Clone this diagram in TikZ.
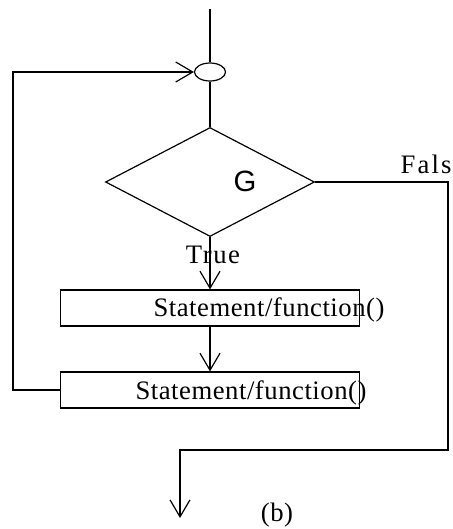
\documentclass[tikz,border=0pt]{standalone}
\usepackage{fontspec}
\setmainfont[LetterSpace=2]{Liberation Serif}
\newfontfamily\condfont{Liberation Sans}
\usetikzlibrary{arrows.meta, shapes.geometric}

\begin{document}
\begin{tikzpicture}[x=0.75pt, y=-0.75pt, line width=0.9pt,
  arr/.style={-{Straight Barb[length=12.75pt, width=15pt]}},
  stmtbox/.style={draw, rectangle, minimum width=224.25pt, minimum height=27pt, inner sep=0pt},
  lbl/.style={font=\fontsize{20}{24}\selectfont, inner sep=0pt}]
\useasboundingbox (0,0) rectangle (453,529);
% loop body
\node[draw, ellipse, minimum width=23.25pt, minimum height=13.5pt, inner sep=0pt] (join) at (210,72) {};
\node[draw, diamond, minimum width=156.75pt, minimum height=81.75pt, inner sep=0pt] (cond) at (210,182) {};
\node[font=\condfont\fontsize{22}{26}\selectfont, inner sep=0pt] (g) at (245,181) {G};
\node[stmtbox] (s1) at (210,308) {};
\node[stmtbox] (s2) at (210,390) {};
\node[lbl, anchor=base] (t1) at (269,316) {Statement/function()};
\node[lbl, anchor=base] (t2) at (251,399) {Statement/function()};
\node[lbl, anchor=base] (yes) at (213,263) {\addfontfeature{LetterSpace=6}True};
\node[lbl, anchor=base west] (no) at (400,173) {\addfontfeature{LetterSpace=8}Fals};
\node[lbl, anchor=base] (cap) at (277,521) {(b)};
\coordinate (in) at (210,9);
\coordinate (fbend) at (448,450);
\coordinate (out) at (180,518);
% connectors
\draw (in) -- (join.north);
\draw (join.south) -- (cond.north);
\draw[arr] (cond.south) -- (s1.north);
\draw[arr] (s1.south) -- (s2.north);
\draw[arr] (s2.west) -- ++(-47,0) |- (join.west);
\draw[arr] (cond.east) -| (fbend) -| (out);
\end{tikzpicture}
\end{document}
